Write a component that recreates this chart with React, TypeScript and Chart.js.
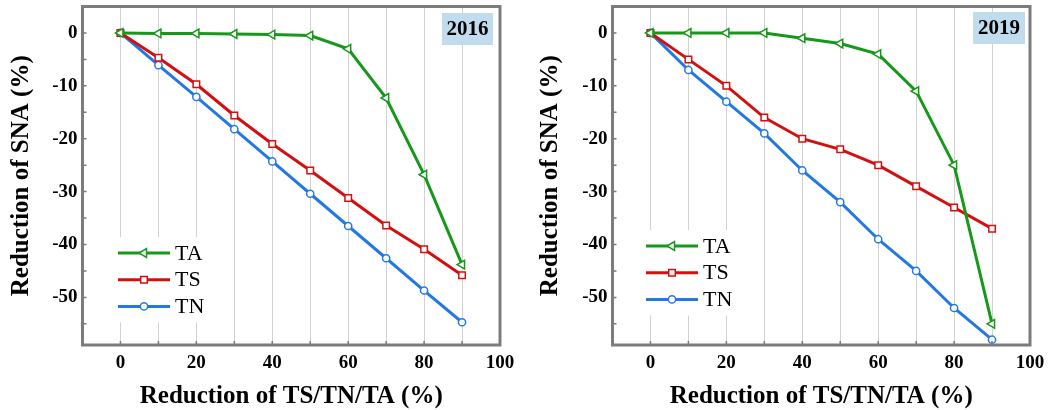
import React, { useEffect, useRef } from 'react';
import { Chart, registerables } from 'chart.js';

Chart.register(...registerables);

// ---------- data ----------
const reductionLevels = [0, 10, 20, 30, 40, 50, 60, 70, 80, 90];
const xTickLabels = [0, 20, 40, 60, 80, 100];
const xGridValues = [0, 10, 20, 30, 40, 50, 60, 70, 80, 90, 100];
const yTickLabels = [0, -10, -20, -30, -40, -50];
const yTickMarks = [0, -5, -10, -15, -20, -25, -30, -35, -40, -45, -50, -55];
const seriesNames = ['TA', 'TS', 'TN'];

const ta2016 = [0, -0.1, -0.1, -0.2, -0.3, -0.5, -3.0, -12.3, -26.8, -43.8];
const ts2016 = [0, -4.7, -9.7, -15.6, -21.0, -26.0, -31.2, -36.4, -40.9, -45.8];
const tn2016 = [0, -6.1, -12.1, -18.2, -24.3, -30.4, -36.5, -42.6, -48.7, -54.7];

const ta2019 = [0, 0, 0, 0, -1, -2, -4, -11, -25, -55];
const ts2019 = [0, -5, -10, -16, -20, -22, -25, -29, -33, -37];
const tn2019 = [0, -7, -13, -19, -26, -32, -39, -45, -52, -58];

// ---------- styles ----------
const SERIF = "'Liberation Serif', 'Times New Roman', Times, serif";
const COLORS = ['#16991a', '#d3100f', '#2379e3'];
const POINT_STYLES = ['triangle', 'rect', 'circle'];
const POINT_RADII = [5, 4.6, 3.6];

type PanelLayout = {
  yAxisWidth: number;
  padRight: number;
  yTitlePad: number;
  legendX: number; // left end of legend line
  legendY: number; // first entry y
  yearBox: [number, number, number, number];
};

function drawMarker(ctx: CanvasRenderingContext2D, style: string, x: number, y: number, r: number) {
  ctx.beginPath();
  if (style === 'triangle') {
    let rad = -Math.PI / 2;
    ctx.moveTo(x + Math.sin(rad) * r, y - Math.cos(rad) * r);
    rad += (2 * Math.PI) / 3;
    ctx.lineTo(x + Math.sin(rad) * r, y - Math.cos(rad) * r);
    rad += (2 * Math.PI) / 3;
    ctx.lineTo(x + Math.sin(rad) * r, y - Math.cos(rad) * r);
    ctx.closePath();
  } else if (style === 'rect') {
    const s = Math.SQRT1_2 * r;
    ctx.rect(x - s, y - s, 2 * s, 2 * s);
  } else {
    ctx.arc(x, y, r, 0, Math.PI * 2);
  }
  ctx.fill();
  ctx.stroke();
}

const decorPlugin = {
  id: 'panelDecor',
  afterDraw(chart: any) {
    const o = chart.options.plugins.panelDecor;
    const { ctx, chartArea: a, scales } = chart;
    ctx.save();
    // inward tick marks
    ctx.strokeStyle = '#7a7a7a';
    ctx.lineWidth = 1.5;
    ctx.beginPath();
    for (const v of reductionLevels) {
      const px = scales.x.getPixelForValue(v);
      ctx.moveTo(px, a.bottom);
      ctx.lineTo(px, a.bottom - 4);
    }
    for (const v of yTickMarks) {
      const py = scales.y.getPixelForValue(v);
      ctx.moveTo(a.left, py);
      ctx.lineTo(a.left + 4, py);
    }
    ctx.stroke();
    // frame
    ctx.strokeStyle = '#7c7c7c';
    ctx.lineWidth = 3;
    ctx.strokeRect(a.left, a.top, a.right - a.left, a.bottom - a.top);

    // year box
    const [bx, by, bw, bh] = o.yearBox;
    ctx.fillStyle = '#c0dced';
    ctx.fillRect(bx, by, bw, bh);
    ctx.fillStyle = '#000';
    ctx.font = `bold 21px ${SERIF}`;
    ctx.textAlign = 'center';
    ctx.textBaseline = 'middle';
    ctx.fillText(o.year, bx + bw / 2, by + bh / 2 + 1);

    // legend
    const lx = o.legendX;
    const ly = o.legendY;
    const gap = 26.7;
    ctx.fillStyle = '#ffffff';
    ctx.fillRect(lx - 6, ly - 16, 110, gap * 2 + 32);
    chart.data.datasets.forEach((ds: any, i: number) => {
      const y = ly + i * gap;
      ctx.strokeStyle = COLORS[i];
      ctx.lineWidth = 3;
      ctx.beginPath();
      ctx.moveTo(lx, y);
      ctx.lineTo(lx + 52, y);
      ctx.stroke();
      ctx.fillStyle = '#ffffff';
      ctx.lineWidth = 1.5;
      drawMarker(ctx, POINT_STYLES[i], lx + 26, y, POINT_RADII[i]);
      ctx.fillStyle = '#000';
      ctx.font = `22px ${SERIF}`;
      ctx.textAlign = 'left';
      ctx.textBaseline = 'middle';
      ctx.fillText(ds.label, lx + 57, y + 1);
    });
    ctx.restore();
  },
};

function Panel({ year, ta, ts, tn, layout }: { year: string; ta: number[]; ts: number[]; tn: number[]; layout: PanelLayout }) {
  const ref = useRef<HTMLCanvasElement>(null);
  useEffect(() => {
    if (!ref.current) return;
    const seriesValues = [ta, ts, tn];
    const chart = new Chart(ref.current, {
      type: 'line',
      data: {
        datasets: seriesNames.map((name, i) => ({
          label: name,
          data: reductionLevels.map((x, j) => ({ x, y: seriesValues[i][j] })),
          borderColor: COLORS[i],
          backgroundColor: '#ffffff',
          borderWidth: 3,
          pointStyle: POINT_STYLES[i] as any,
          pointRotation: i === 0 ? -90 : 0,
          pointRadius: POINT_RADII[i],
          pointBorderWidth: 1.5,
          pointBorderColor: COLORS[i],
          pointBackgroundColor: '#ffffff',
          tension: 0,
          fill: false,
        })),
      },
      plugins: [decorPlugin],
      options: {
        animation: false,
        responsive: false,
        layout: { padding: { left: 0, right: layout.padRight, top: 6.5, bottom: 0 } },
        plugins: {
          legend: { display: false },
          tooltip: { enabled: false },
          panelDecor: { year, legendX: layout.legendX, legendY: layout.legendY, yearBox: layout.yearBox },
        } as any,
        scales: {
          x: {
            type: 'linear',
            min: -10,
            max: 100,
            afterBuildTicks: (s: any) => {
              s.ticks = xGridValues.map((v) => ({ value: v }));
            },
            afterFit: (s: any) => {
              s.height = 65;
              s.paddingLeft = 0;
              s.paddingRight = 0;
            },
            ticks: {
              autoSkip: false,
              maxRotation: 0,
              padding: 7,
              color: '#000',
              font: { family: SERIF, size: 19, weight: 'bold' },
              callback: (v: any) => (xTickLabels.includes(Number(v)) ? String(v) : ''),
            },
            grid: {
              drawTicks: false,
              lineWidth: 1,
              color: (c: any) => (c.tick && c.tick.value >= 0 && c.tick.value < 100 ? '#d2d2d2' : 'rgba(0,0,0,0)'),
            },
            border: { display: false },
            title: {
              display: true,
              text: 'Reduction of TS/TN/TA (%)',
              color: '#000',
              font: { family: SERIF, size: 25, weight: 'bold', lineHeight: 1 },
              padding: { top: 0, bottom: 1 },
            },
          },
          y: {
            type: 'linear',
            min: -59,
            max: 5,
            afterBuildTicks: (s: any) => {
              s.ticks = yTickLabels.map((v) => ({ value: v }));
            },
            afterFit: (s: any) => {
              s.width = layout.yAxisWidth;
              s.paddingTop = 0;
              s.paddingBottom = 0;
            },
            ticks: {
              padding: 5,
              color: '#000',
              font: { family: SERIF, size: 19, weight: 'bold' },
              callback: (v: any) => String(v),
            },
            grid: { display: false, drawTicks: false },
            border: { display: false },
            title: {
              display: true,
              text: 'Reduction of SNA (%)',
              color: '#000',
              font: { family: SERIF, size: 25, weight: 'bold', lineHeight: 1 },
              padding: { top: layout.yTitlePad, bottom: 0 },
            },
          },
        },
      } as any,
    });
    return () => chart.destroy();
  }, []);
  return <canvas ref={ref} width={524} height={410} style={{ width: 524, height: 410, display: 'block' }} />;
}

const leftLayout: PanelLayout = {
  yAxisWidth: 82.5,
  padRight: 24,
  yTitlePad: 9,
  legendX: 118,
  legendY: 253,
  yearBox: [442, 13, 51, 32],
};
const rightLayout: PanelLayout = {
  yAxisWidth: 88.5,
  padRight: 18,
  yTitlePad: 14,
  legendX: 122,
  legendY: 246,
  yearBox: [449, 12, 52, 32],
};

export default function App() {
  return (
    <div style={{ position: 'absolute', left: 0, top: 0, width: 1048, height: 410, background: '#fff', overflow: 'hidden' }}>
      <div style={{ position: 'absolute', left: 0, top: 0 }}>
        <Panel year={'2016'} ta={ta2016} ts={ts2016} tn={tn2016} layout={leftLayout} />
      </div>
      <div style={{ position: 'absolute', left: 524, top: 0 }}>
        <Panel year={'2019'} ta={ta2019} ts={ts2019} tn={tn2019} layout={rightLayout} />
      </div>
    </div>
  );
}
